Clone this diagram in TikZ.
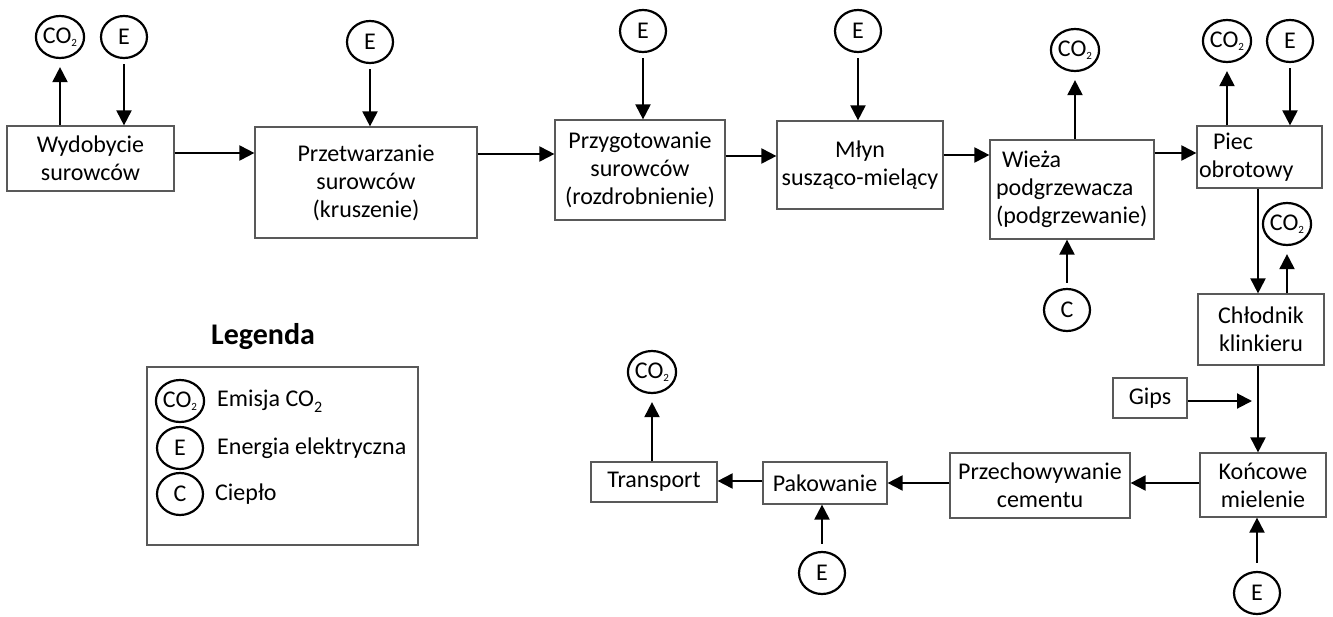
\documentclass[tikz,border=0pt]{standalone}
\usepackage{fontspec}
\setmainfont{Carlito}
\usetikzlibrary{arrows.meta,shapes.geometric}
\newcommand{\COinc}{CO\raisebox{-3pt}{\fontsize{11}{11}\selectfont 2}}
\newcommand{\COleg}{CO\raisebox{-6pt}{\fontsize{16}{16}\selectfont 2}}
\tikzset{
  boxnode/.style={draw=black!65, line width=1.2pt, rectangle, inner sep=0pt, align=center,
    font=\fontsize{24}{28}\selectfont},
  circnode/.style={draw=black, line width=2.2pt, ellipse, minimum width=46pt, minimum height=42pt,
    inner sep=0pt, font=\fontsize{24}{24}\selectfont},
  arr/.style={line width=2pt, -{Triangle[length=15pt,width=15pt]}},
  tipgap/.style={shorten >=8pt},
  startgap/.style={shorten <=5pt},
  legtext/.style={anchor=west, inner sep=0pt, font=\fontsize{24}{28}\selectfont}
}
\begin{document}
\begin{tikzpicture}[x=1pt,y=-1pt]
\useasboundingbox[fill=white] (0,0) rectangle (1333,616);

% process boxes
\node[boxnode, minimum width=167pt, minimum height=65pt] (wyd) at (90.5,158.5) {Wydobycie\\surowców};
\node[boxnode, minimum width=222pt, minimum height=111pt] (prz) at (366,182.5) {Przetwarzanie\\surowców\\(kruszenie)};
\node[boxnode, minimum width=170pt, minimum height=100pt] (prg) at (640,170) {Przygotowanie\\surowców\\(rozdrobnienie)};
\node[boxnode, minimum width=166pt, minimum height=88pt] (mly) at (860,165) {Młyn\\susząco-mielący};
\node[boxnode, align=left, text width=152pt, inner xsep=6pt, minimum height=99pt] (wie) at (1072,189.5) {\hspace{6pt}Wieża\\podgrzewacza\\(podgrzewanie)};
\node[boxnode, align=left, text width=121pt, inner xsep=2pt, minimum height=62pt] (pie) at (1259.5,157) {\hspace{14pt}Piec\\obrotowy};
\node[boxnode, minimum width=126pt, minimum height=71pt] (chl) at (1261,329.5) {Chłodnik\\klinkieru};
\node[boxnode, minimum width=126pt, minimum height=64pt] (kon) at (1263,485) {Końcowe\\mielenie};
\node[boxnode, minimum width=74pt, minimum height=40pt] (gip) at (1150,398) {Gips};
\node[boxnode, minimum width=180pt, minimum height=65pt] (prc) at (1040,485.5) {Przechowywanie\\cementu};
\node[boxnode, minimum width=124pt, minimum height=42pt] (pak) at (825,483) {Pakowanie};
\node[boxnode, minimum width=126pt, minimum height=40pt] (tra) at (654,482) {Transport};

% circles
\node[circnode] (co1) at (60,37) {\COinc};
\node[circnode] (e1) at (124,37) {E};
\node[circnode] (e2) at (370,42) {E};
\node[circnode] (e3) at (643,31) {E};
\node[circnode] (e4) at (858,31) {E};
\node[circnode] (co5) at (1075,50) {\COinc};
\node[circnode] (c5) at (1067,310) {C};
\node[circnode] (co6) at (1227,41) {\COinc};
\node[circnode] (e6) at (1290,41) {E};
\node[circnode] (co7) at (1287,224) {\COinc};
\node[circnode] (ek) at (1257,593) {E};
\node[circnode] (cot) at (652,372) {\COinc};
\node[circnode] (ep) at (822,573) {E};

% helper coordinates
\coordinate (vx) at (1258,0);
\coordinate (gipend) at (1252,401);

% main flow
\draw[arr] ([yshift=5.5pt]wyd.east) -- ([yshift=5.5pt]wyd.east -| prz.west);
\draw[arr] ([yshift=28.5pt]prz.east) -- ([yshift=28.5pt]prz.east -| prg.west);
\draw[arr] ([yshift=14pt]prg.east) -- ([yshift=14pt]prg.east -| mly.west);
\draw[arr] ([yshift=10pt]mly.east) -- ([yshift=10pt]mly.east -| wie.west);
\draw[arr] ([yshift=36.5pt]wie.east) -- ([yshift=36.5pt]wie.east -| pie.west);
\draw[arr] (pie.south -| vx) -- (chl.north -| vx);
\draw[arr] (chl.south -| vx) -- (kon.north -| vx);
\draw[arr] ([yshift=-3pt]gip.east) -- (gipend);
\draw[arr] ([yshift=2pt]kon.west) -- ([yshift=2pt]kon.west -| prc.east);
\draw[arr] ([yshift=2.5pt]prc.west) -- ([yshift=2.5pt]prc.west -| pak.east);
\draw[arr] ([yshift=2pt]pak.west) -- ([yshift=2pt]pak.west -| tra.east);

% emissions and inputs
\draw[arr, tipgap] (wyd.north -| co1) -- (co1);
\draw[arr, startgap] (e1) -- (e1 |- wyd.north);
\draw[arr, startgap] (e2) -- (e2 |- prz.north);
\draw[arr, startgap] (e3) -- (e3 |- prg.north);
\draw[arr, startgap] (e4) -- (e4 |- mly.north);
\draw[arr, tipgap] (wie.north -| co5) -- (co5);
\draw[arr, startgap] (c5) -- (c5 |- wie.south);
\draw[arr, tipgap] (pie.north -| co6) -- (co6);
\draw[arr, startgap] (e6) -- (e6 |- pie.north);
\draw[arr, tipgap] (chl.north -| co7) -- (co7);
\draw[arr, shorten <=8pt] (ek) -- (ek |- kon.south);
\draw[arr, tipgap] (tra.north -| cot) -- (cot);
\draw[arr, shorten <=7pt] (ep) -- (ep |- pak.south);

% legend
\node[font=\bfseries\fontsize{30}{30}\selectfont, inner sep=0pt] (legtitle) at (263,337) {Legenda};
\node[draw=black!65, line width=1.2pt, rectangle, minimum width=271pt, minimum height=178pt, inner sep=0pt] (leg) at (282.5,456) {};
\node[circnode] (lco) at (180,401) {\COinc};
\node[circnode] (le) at (180,448) {E};
\node[circnode] (lc) at (180,494) {C};
\node[legtext] (lcot) at (217,401) {Emisja \COleg};
\node[legtext] (let) at (217,448) {Energia elektryczna};
\node[legtext] (lct) at (215,494) {Ciepło};
\end{tikzpicture}
\end{document}
